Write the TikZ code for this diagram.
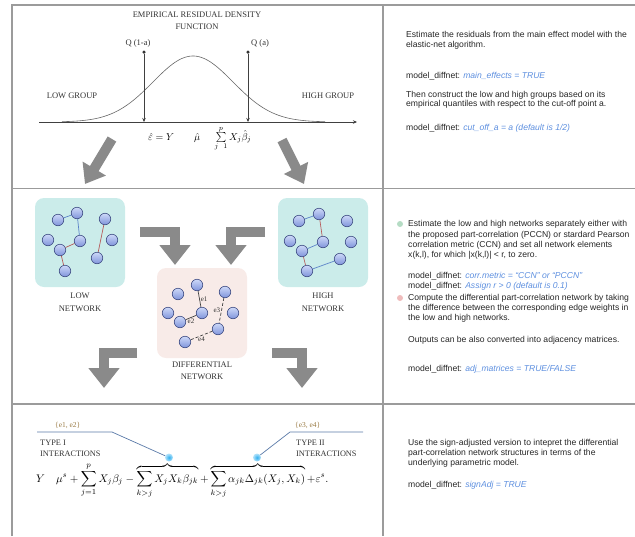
\documentclass[tikz,border=0pt]{standalone}
\usepackage{amsmath}
\usepackage{amssymb}
\usepackage{graphicx}
\usepackage{fontspec}
\setmainfont{Liberation Serif}
\setsansfont{Liberation Sans}
\usepackage{tikz}
\usepackage{xcolor}
\usetikzlibrary{arrows.meta,positioning,shapes.geometric}
\definecolor{gridgray}{HTML}{9B9B9B}
\definecolor{arrowgray}{HTML}{8A8A8A}
\definecolor{lowfill}{HTML}{CBECEA}
\definecolor{difffill}{HTML}{F8EBE8}
\definecolor{balltop}{HTML}{CDD8F8}
\definecolor{ballbot}{HTML}{7F93DB}
\definecolor{ballrim}{HTML}{3C4A82}
\definecolor{edgeblue}{HTML}{5B82C8}
\definecolor{edgered}{HTML}{B65A5A}
\definecolor{txtgray}{HTML}{262626}
\definecolor{codeblue}{HTML}{5D8FDF}
\definecolor{bulletgreen}{HTML}{B5DCC4}
\definecolor{bulletpink}{HTML}{EFBCBC}
\definecolor{callblue}{HTML}{5A7AA8}
\definecolor{glowblue}{HTML}{2FB0F0}
\definecolor{setgold}{HTML}{9A7B45}
\newcommand{\code}[1]{{\color{codeblue}\itshape #1}}
\tikzset{
  panel/.style={draw=gridgray, line width=1.3pt},
  netbox/.style={rounded corners=9pt, minimum width=90pt, minimum height=89pt, inner sep=0pt},
  ball/.style={circle, draw=ballrim, line width=0.6pt, top color=balltop, bottom color=ballbot, minimum size=11.5pt, inner sep=0pt},
  posedge/.style={draw=edgeblue, line width=0.7pt},
  negedge/.style={draw=edgered, line width=0.7pt},
  diffedge/.style={draw=black!75, line width=0.7pt},
  bigarrow/.style={draw=arrowgray, line width=10pt, -{Triangle[length=20pt,width=30pt]}},
  slantarrow/.style={draw=arrowgray, line width=10pt, -{Triangle[length=18pt,width=26pt]}},
  curve/.style={draw=black!60, line width=0.6pt},
  lbl/.style={font=\fontsize{8.5}{11}\selectfont, text=black!80, inner sep=0pt, align=center},
  elbl/.style={font=\fontsize{7}{8}\selectfont, text=black!80, inner sep=1pt},
  info/.style={font=\sffamily\fontsize{8.6}{10}\selectfont, text=txtgray, inner sep=0pt, align=left},
  callout/.style={draw=callblue, line width=0.7pt},
  glow/.style={circle, inner color=glowblue, outer color=glowblue!35, minimum size=8pt, inner sep=0pt},
  qline/.style={draw=black!75, line width=0.6pt, -{Stealth[length=4pt,width=3.5pt]}},
  qdot/.style={circle, fill=black!80, minimum size=3.5pt, inner sep=0pt},
  bullet/.style={circle, minimum size=6pt, inner sep=0pt}
}

\begin{document}
\begin{tikzpicture}[x=1pt, y=-1pt]
  \useasboundingbox (0,0) rectangle (635,536);

  % table rules
  \draw[panel] (12,536) -- (12,5) -- (635,5);
  \draw[panel] (12,188.5) -- (635,188.5);
  \draw[panel] (12,404) -- (635,404);
  \draw[panel] (383,5) -- (383,536);

  % residual density
  \node[lbl, anchor=north, font=\fontsize{8.5}{11.3}\selectfont] (title) at (197,12) {EMPIRICAL RESIDUAL DENSITY\\FUNCTION};
  \coordinate (axl) at (39,122);
  \coordinate (axr) at (357,122);
  \draw[draw=black!75, line width=0.6pt, -{Stealth[length=4pt,width=3.5pt]}] (axl) -- (axr);
  \draw[curve] plot[domain=62:325, samples=120, smooth] (\x, {122-66*exp(-0.5*((\x-193)/40)^2)});
  \node[qdot] (qlo) at (144,52) {};
  \node[qdot] (qhi) at (248,52) {};
  \coordinate (qloaxis) at (144,122);
  \coordinate (qhiaxis) at (248,122);
  \draw[qline] (qlo) -- (qloaxis);
  \draw[qline] (qhi) -- (qhiaxis);
  \node[lbl, anchor=base] (qlolbl) at (138,45) {Q (1-a)};
  \node[lbl, anchor=base west] (qhilbl) at (251,45) {Q (a)};
  \node[lbl, anchor=north] (lowgrp) at (72,92.7) {LOW GROUP};
  \node[lbl, anchor=north] (highgrp) at (328,92.7) {HIGH GROUP};
  \node[anchor=base west, inner sep=0pt] (resid) at (148,140)
    {$\hat{\varepsilon}=Y\qquad\hat{\mu}\quad\;\sum\limits_{j\ \ 1}^{p}X_j\hat{\beta}_j$};
  \draw[slantarrow] (112,139) -- (85,184);
  \draw[slantarrow] (282,140) -- (304,184);

  % networks
  \node[netbox, fill=lowfill] (lowbox) at (80,242.5) {};
  \node[netbox, fill=lowfill] (highbox) at (323,242.5) {};
  \node[netbox, fill=difffill, minimum height=90pt] (diffbox) at (202,313) {};
  \foreach \n/\px/\py in {1/58/220,2/77/213,3/105/219,4/48/240,5/80/241,6/112/240,7/60/250,8/97/258,9/65/271}
    \node[ball] (l\n) at (\px,\py) {};
  \foreach \n/\px/\py in {1/299/221,2/319/214,3/347/221,4/290/241,5/323/242,6/351/242,7/302/251,8/340/259,9/307/271}
    \node[ball] (h\n) at (\px,\py) {};
  \foreach \n/\px/\py in {1/197/285,2/178/294,3/225/292,4/168/313,5/202/313,6/233/313,7/180/322,8/218/329,9/185/342}
    \node[ball] (d\n) at (\px,\py) {};
  \draw[posedge] (l1) -- (l2);
  \draw[posedge] (l2) -- (l5);
  \draw[negedge] (l5) -- (l7);
  \draw[negedge] (l7) -- (l9);
  \draw[negedge] (l3) -- (l8);
  \draw[posedge] (h1) -- (h2);
  \draw[negedge] (h2) -- (h5);
  \draw[posedge] (h5) -- (h7);
  \draw[negedge] (h7) -- (h9);
  \draw[posedge] (h9) -- (h8);
  \draw[diffedge] (d1) -- node[right, elbl] {e1} (d5);
  \draw[diffedge] (d5) -- node[below, elbl] {e2} (d7);
  \draw[diffedge, dash pattern=on 3pt off 2pt] (d3) -- node[left, elbl] {e3} (d8);
  \draw[diffedge, dash pattern=on 3pt off 2pt] (d8) -- node[below, elbl] {e4} (d9);
  \node[lbl, below=5.5pt of lowbox, font=\fontsize{8.5}{13}\selectfont] (lowlbl) {LOW\\NETWORK};
  \node[lbl, below=5.5pt of highbox, font=\fontsize{8.5}{13}\selectfont] (highlbl) {HIGH\\NETWORK};
  \node[lbl, below=3.7pt of diffbox, font=\fontsize{8.5}{12}\selectfont] (difflbl) {DIFFERENTIAL\\NETWORK};
  \draw[bigarrow] (140,232) -| (175,265);
  \draw[bigarrow] (265,232) -| (231,265);
  \draw[bigarrow] (137,353) -| (104,388);
  \draw[bigarrow] (272,353) -| (302,388);

  % interactions
  \node[lbl, anchor=base west, text=setgold, font=\fontsize{7.5}{9}\selectfont] (setI) at (55,427) {\{e1, e2\}};
  \node[lbl, anchor=base west, text=setgold, font=\fontsize{7.5}{9}\selectfont] (setII) at (295,427) {\{e3, e4\}};
  \node[lbl, anchor=north west, align=left, font=\fontsize{8.3}{10.7}\selectfont] (typeI) at (40,440) {TYPE I\\INTERACTIONS};
  \node[lbl, anchor=north west, align=left, font=\fontsize{8.3}{10.7}\selectfont] (typeII) at (296,440) {TYPE II\\INTERACTIONS};
  \coordinate (calIa) at (37,432);
  \coordinate (calIb) at (112,432);
  \coordinate (calIIa) at (363,432);
  \coordinate (calIIb) at (290,432);
  \node[glow] (dotI) at (169,457.5) {};
  \node[glow] (dotII) at (257,457.5) {};
  \draw[callout] (calIa) -- (calIb) -- (dotI);
  \draw[callout] (calIIa) -- (calIIb) -- (dotII);
  \node[anchor=base west, inner sep=0pt] (model) at (36,482)
    {\scalebox{1.1}{$\displaystyle Y\quad\mu^s+\sum_{j=1}^{p}X_j\beta_j-\overbrace{\sum_{k>j}X_jX_k\beta_{jk}}+\overbrace{\sum_{k>j}\alpha_{jk}\Delta_{jk}(X_j,X_k)}+\varepsilon^s.$}};

  % right column
  \node[info, anchor=north west, font=\sffamily\fontsize{8.6}{9.5}\selectfont] (est) at (406,31.5) {Estimate the residuals from the main effect model with the\\elastic-net algorithm.};
  \node[info, anchor=base west] (mainfx) at (406,78.5) {model\_diffnet: \code{main\_effects = TRUE}};
  \node[info, anchor=north west, font=\sffamily\fontsize{8.6}{9.5}\selectfont] (groups) at (406,91) {Then construct the low and high groups based on its\\empirical quantiles with respect to the cut-off point a.};
  \node[info, anchor=base west] (cutoff) at (406,130.2) {model\_diffnet: \code{cut\_off\_a = a (default is 1/2)}};

  \node[bullet, fill=bulletgreen] (bgreen) at (400,224) {};
  \node[info, anchor=north west, font=\sffamily\fontsize{8.6}{10.3}\selectfont] (netest) at (408,220.3) {Estimate the low and high networks separately either with\\the proposed part-correlation (PCCN) or stardard Pearson\\correlation metric (CCN) and set all network elements\\x(k,l), for which |x(k,l)| < r, to zero.};
  \node[info, anchor=north west, font=\sffamily\fontsize{8.6}{9.3}\selectfont] (metric) at (408,272.3) {model\_diffnet: \code{corr.metric = ``CCN'' or ``PCCN''}\\model\_diffnet: \code{Assign r > 0 (default is 0.1)}};
  \node[bullet, fill=bulletpink] (bpink) at (400,298) {};
  \node[info, anchor=north west] (diffest) at (408,294.3) {Compute the differential part-correlation network by taking\\the difference between the corresponding edge weights in\\the low and high networks.};
  \node[info, anchor=base west] (adjout) at (408,342.5) {Outputs can be also converted into adjacency matrices.};
  \node[info, anchor=base west] (adjmat) at (408,371.5) {model\_diffnet: \code{adj\_matrices = TRUE/FALSE}};

  \node[info, anchor=north west] (signadj) at (408,438.8) {Use the sign-adjusted version to intepret the differential\\part-correlation network structures in terms of the\\underlying parametric model.};
  \node[info, anchor=base west] (signcode) at (408,487) {model\_diffnet: \code{signAdj = TRUE}};
\end{tikzpicture}
\end{document}
